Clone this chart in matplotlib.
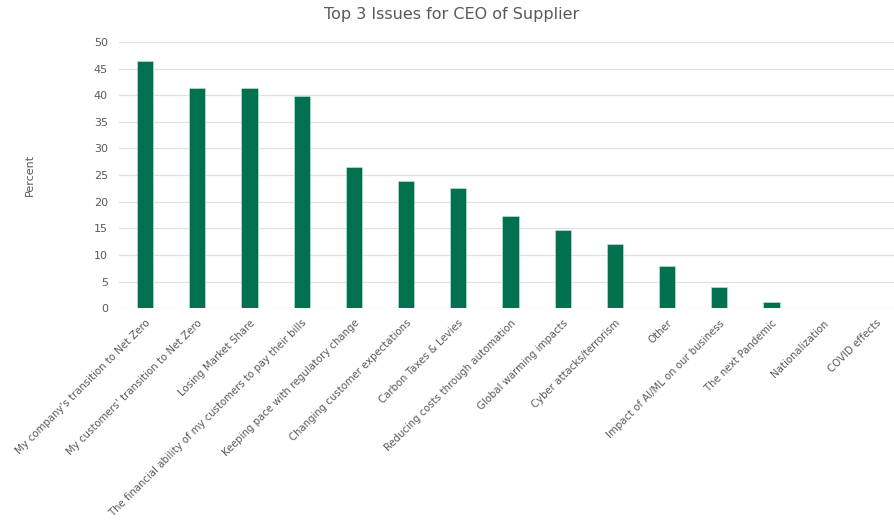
import matplotlib
matplotlib.use("Agg")
import matplotlib.pyplot as plt
import numpy as np

categories = [
    "My company's transition to Net Zero",
    "My customers' transition to Net Zero",
    "Losing Market Share",
    "The financial ability of my customers to pay their bills",
    "Keeping pace with regulatory change",
    "Changing customer expectations",
    "Carbon Taxes & Levies",
    "Reducing costs through automation",
    "Global warming impacts",
    "Cyber attacks/terrorism",
    "Other",
    "Impact of AI/ML on our business",
    "The next Pandemic",
    "Nationalization",
    "COVID effects",
]
values = [46.5, 41.3, 41.3, 39.8, 26.6, 23.9, 22.6, 17.3, 14.6, 12.0, 7.9, 3.9, 1.2, 0, 0]
yticks = [0, 5, 10, 15, 20, 25, 30, 35, 40, 45, 50]

text_color = "#595959"
bar_color = "#00704F"

fig = plt.figure(figsize=(8.94, 5.25), dpi=100)
ax = fig.add_axes([0.133, 0.413, 0.876, 0.507])
x = np.arange(len(categories))
ax.bar(x, values, width=0.31, color=bar_color, edgecolor="#cfe6dc", linewidth=0.4, zorder=3)
ax.set_xlim(-0.5, len(categories) - 0.5)
ax.set_ylim(0, 50)
ax.set_yticks(yticks)
ax.set_yticklabels([str(t) for t in yticks], fontsize=8, color=text_color)
ax.set_xticks(x)
ax.set_xticklabels(categories, rotation=45, ha="right", rotation_mode="anchor",
                   fontsize=7.3, color=text_color)
ax.tick_params(axis="both", length=0, pad=8)
ax.tick_params(axis="x", pad=7)
ax.grid(axis="y", color="#e0e0e0", linewidth=0.9, zorder=0)
for s in ax.spines.values():
    s.set_visible(False)
ax.set_ylabel("Percent", fontsize=8, color=text_color, labelpad=42)
fig.text(0.505, 0.972, "Top 3 Issues for CEO of Supplier", ha="center", va="center",
         fontsize=11.5, color=text_color)
fig.savefig("out.png", dpi=100)
